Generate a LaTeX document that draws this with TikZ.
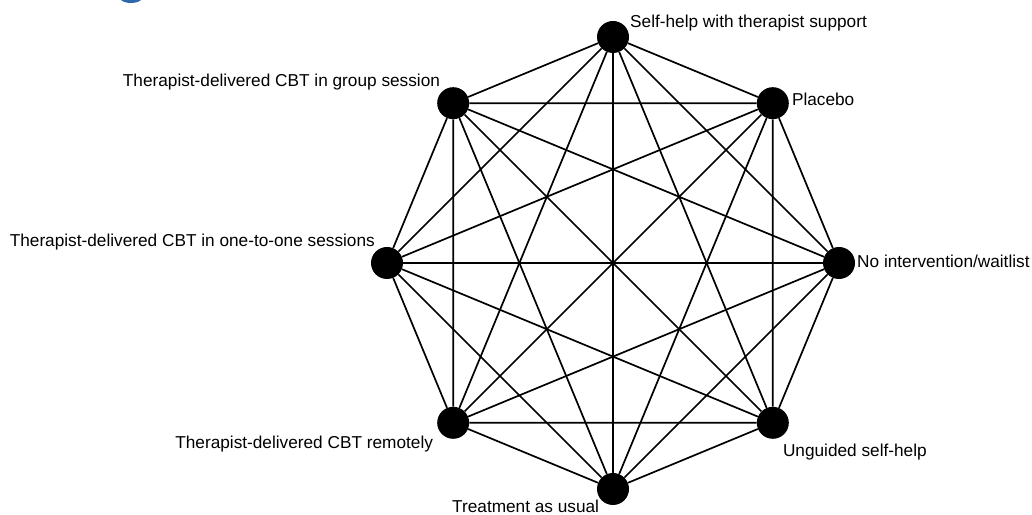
\documentclass[tikz,border=0pt]{standalone}
\usepackage{fontspec}
\setmainfont{Liberation Sans}

\definecolor{titleblue}{RGB}{46,104,172}

\tikzset{
  trt/.style={circle, fill=black, inner sep=0pt, minimum size=32bp},
  lbl/.style={inner sep=0pt, font=\fontsize{17.3}{20}\selectfont},
  link/.style={line width=1.7bp},
}

\begin{document}
\begin{tikzpicture}[x=1bp, y=1bp]
    \useasboundingbox (0,0) rectangle (1032,515);
    \fill[titleblue] (121,515) .. controls (125,511) and (137,511) .. (141,515) -- cycle;

    \begin{scope}[shift={(613,252)}]
    \node[trt] (sup)  at (90:226bp)   {};
    \node[trt] (plc)  at (45:226bp)   {};
    \node[trt] (wait) at (0:226bp)    {};
    \node[trt] (ugd)  at (-45:226bp)  {};
    \node[trt] (tau)  at (-90:226bp)  {};
    \node[trt] (rem)  at (-135:226bp) {};
    \node[trt] (one)  at (180:226bp)  {};
    \node[trt] (grp)  at (135:226bp)  {};
    \end{scope}

    \node[lbl, anchor=base west] (sup_l)  at ([shift={(17,9)}]sup.center)   {Self-help with therapist support};
    \node[lbl, anchor=base west] (plc_l)  at ([shift={(19,-2)}]plc.center)  {Placebo};
    \node[lbl, anchor=base west] (wait_l) at ([shift={(18,-5)}]wait.center) {No intervention/waitlist};
    \node[lbl, anchor=base west] (ugd_l)  at ([shift={(10,-34)}]ugd.center) {Unguided self-help};
    \node[lbl, anchor=base west] (tau_l)  at ([shift={(-161,-24)}]tau.center) {Treatment as usual};
    \node[lbl, anchor=base east] (rem_l)  at ([shift={(-20,-26)}]rem.center) {Therapist-delivered CBT remotely};
    \node[lbl, anchor=base east] (one_l)  at ([shift={(-12,16)}]one.center)  {Therapist-delivered CBT in one-to-one sessions};
    \node[lbl, anchor=base east] (grp_l)  at ([shift={(-13,17)}]grp.center)  {Therapist-delivered CBT in group session};

    \draw[link] (sup) -- (plc) (sup) -- (wait) (sup) -- (ugd) (sup) -- (tau) (sup) -- (rem) (sup) -- (one) (sup) -- (grp);
    \draw[link] (plc) -- (wait) (plc) -- (ugd) (plc) -- (tau) (plc) -- (rem) (plc) -- (one) (plc) -- (grp);
    \draw[link] (wait) -- (ugd) (wait) -- (tau) (wait) -- (rem) (wait) -- (one) (wait) -- (grp);
    \draw[link] (ugd) -- (tau) (ugd) -- (rem) (ugd) -- (one) (ugd) -- (grp);
    \draw[link] (tau) -- (rem) (tau) -- (one) (tau) -- (grp);
    \draw[link] (rem) -- (one) (rem) -- (grp);
    \draw[link] (one) -- (grp);
\end{tikzpicture}
\end{document}
